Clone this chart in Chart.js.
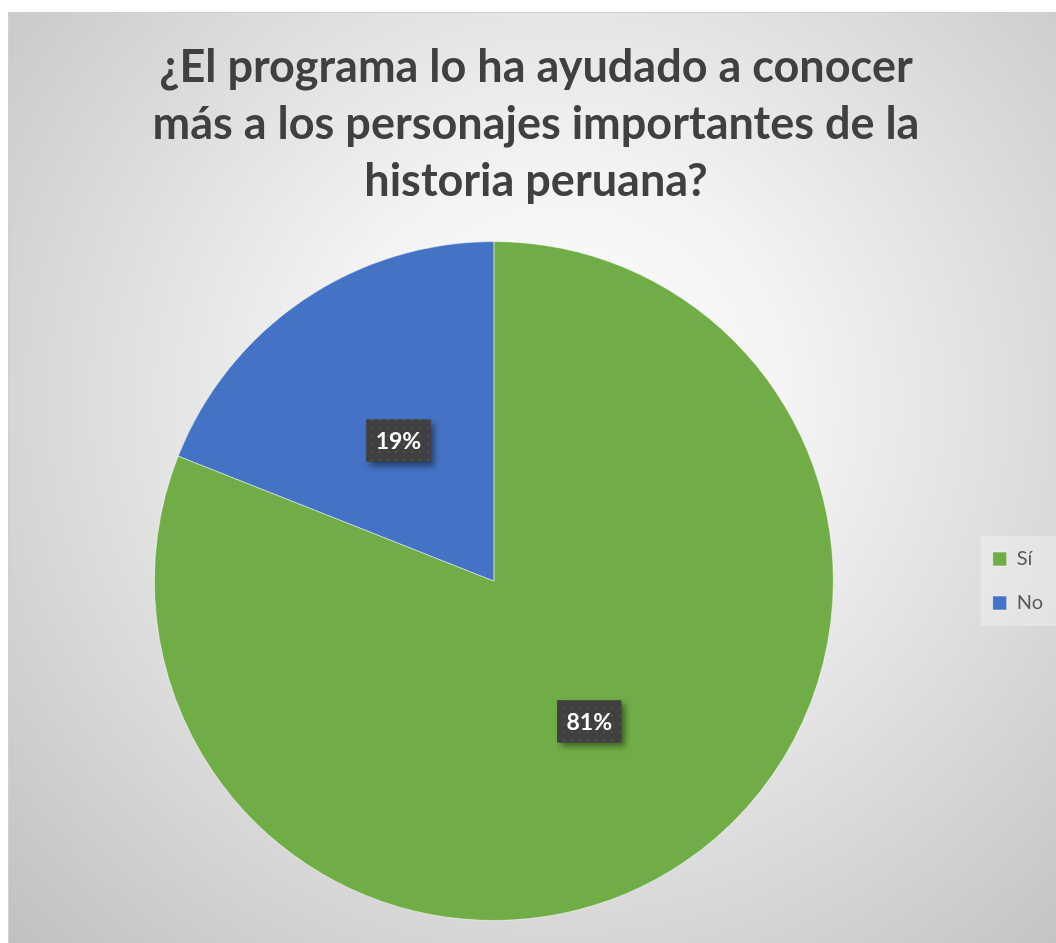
<!DOCTYPE html>
<html>
<head>
<meta charset="utf-8">
<script src="https://cdn.jsdelivr.net/npm/chart.js@4"></script>
<style>
  body { margin: 0; background: #fff; }
  canvas { display: block; }
</style>
</head>
<body>
<canvas id="myChart" width="1056" height="943"></canvas>
<script>
let labels = ['Sí', 'No'];
let values = [81, 19];
let colors = ['#70AD47', '#4472C4'];
let titleLines = ['¿El programa lo ha ayudado a conocer', 'más a los personajes importantes de la', 'historia peruana?'];

// dotted texture for the label boxes
let dots = document.createElement('canvas');
dots.width = 8; dots.height = 8;
let dctx = dots.getContext('2d');
dctx.fillStyle = '#404040';
dctx.fillRect(0, 0, 8, 8);
dctx.fillStyle = '#4f4f4f';
dctx.fillRect(3, 3, 2, 2);

let panelBg = {
    id: 'panelBg',
    beforeDraw(chart) {
        let ctx = chart.ctx;
        ctx.save();
        ctx.fillStyle = '#fff';
        ctx.fillRect(0, 0, chart.width, chart.height);
        let g = ctx.createRadialGradient(560, 400, 0, 560, 400, 780);
        g.addColorStop(0, '#ffffff');
        g.addColorStop(0.3, '#f3f3f3');
        g.addColorStop(1, '#c0c0c0');
        ctx.fillStyle = g;
        ctx.fillRect(8, 12, chart.width - 8, chart.height - 12);
        ctx.strokeStyle = '#d0d0d0';
        ctx.lineWidth = 1;
        ctx.strokeRect(8.5, 12.5, chart.width - 8, chart.height - 12);
        // faint box behind the legend entries
        let boxes = chart.legend.legendHitBoxes || [];
        if (boxes.length) {
            let first = boxes[0], last = boxes[boxes.length - 1];
            let right = Math.max(...boxes.map(b => b.left + b.width));
            ctx.fillStyle = 'rgba(255,255,255,0.3)';
            ctx.fillRect(first.left - 12, first.top - 13, right - first.left + 26, last.top + last.height - first.top + 26);
        }
        ctx.restore();
    }
};

let pctLabels = {
    id: 'pctLabels',
    afterDatasetsDraw(chart) {
        let ctx = chart.ctx;
        let meta = chart.getDatasetMeta(0);
        let total = values.reduce((a, b) => a + b, 0);
        ctx.save();
        meta.data.forEach((arc, i) => {
            let p = arc.tooltipPosition();
            let text = Math.round(values[i] / total * 100) + '%';
            let w = 64, h = 42;
            ctx.save();
            ctx.shadowColor = 'rgba(0,0,0,0.45)';
            ctx.shadowBlur = 6;
            ctx.shadowOffsetX = 4;
            ctx.shadowOffsetY = 4;
            ctx.fillStyle = '#404040';
            ctx.fillRect(p.x - w / 2, p.y - h / 2, w, h);
            ctx.restore();
            ctx.fillStyle = ctx.createPattern(dots, 'repeat');
            ctx.fillRect(p.x - w / 2, p.y - h / 2, w, h);
            ctx.fillStyle = '#ffffff';
            ctx.font = 'bold 23px Lato';
            ctx.textAlign = 'center';
            ctx.textBaseline = 'middle';
            ctx.fillText(text, p.x, p.y + 1);
        });
        ctx.restore();
    }
};

new Chart(document.getElementById('myChart').getContext('2d'), {
    type: 'pie',
    data: {
        labels: labels,
        datasets: [{
            data: values,
            backgroundColor: colors,
            borderColor: 'rgba(255,255,255,0.5)',
            borderWidth: 1
        }]
    },
    options: {
        responsive: false,
        animation: false,
        layout: { padding: { top: 12, bottom: 22, left: 19, right: 3 } },
        plugins: {
            title: {
                display: true,
                text: titleLines,
                color: '#404040',
                font: { family: 'Lato', size: 45, weight: 'bold', lineHeight: '57px' },
                padding: { top: 27, bottom: 31 }
            },
            legend: {
                position: 'right',
                fullSize: false,
                labels: {
                    color: '#595959',
                    font: { family: 'Lato', size: 20 },
                    boxWidth: 14,
                    boxHeight: 14,
                    padding: 24
                }
            },
            tooltip: { enabled: false }
        }
    },
    plugins: [panelBg, pctLabels]
});
</script>
</body>
</html>
